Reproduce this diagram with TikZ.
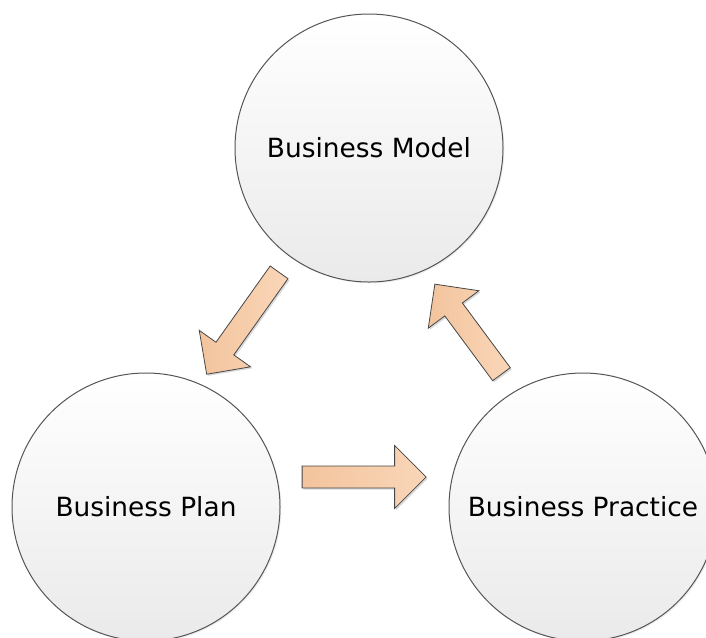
\documentclass[tikz,border=0pt]{standalone}
\usepackage{fontspec}
\setmainfont{DejaVu Sans}
\usetikzlibrary{shapes.arrows,shadows}

\definecolor{rimgray}{RGB}{85,85,85}
\definecolor{bubblelow}{RGB}{234,234,234}
\definecolor{peachdark}{RGB}{243,196,157}
\definecolor{peachlight}{RGB}{249,214,184}
\definecolor{peachrim}{RGB}{70,70,70}

\tikzset{every picture/.style={line width=0.75pt}}
\tikzset{
	bubble/.style={circle, draw=rimgray, inner sep=0pt, minimum size=201pt,
		top color=white, bottom color=bubblelow,
		drop shadow={shadow xshift=1pt, shadow yshift=-1pt, opacity=0.15},
		font=\fontsize{19.8}{24}\selectfont},
	fatarrow/.style={single arrow, draw=peachrim, line width=0.6pt,
		inner xsep=0pt, inner ysep=7.9pt, text height=0pt, text depth=0pt,
		single arrow head extend=15.4pt, anchor=tail,
		left color=peachdark, right color=peachlight,
		drop shadow={shadow xshift=1.2pt, shadow yshift=-1.2pt, opacity=0.3}}
}

\begin{document}
\begin{tikzpicture}[x=0.75pt,y=0.75pt,yscale=-1,xscale=1]
	\useasboundingbox (0,0) rectangle (706,637);
	\clip (0,0) rectangle (706,637);

	%Shape: Circle [id:model]
	\node[bubble] (model) at (369,148) {Business Model};
	%Shape: Circle [id:plan]
	\node[bubble] (plan) at (146,507) {Business Plan};
	%Shape: Circle [id:practice]
	\node[bubble] (practice) at (583,507) {Business Practice};

	%Shape: Right Arrow [id:model to plan]
	\node[fatarrow, minimum height=93.75pt, rotate=-125.4] (tuplan) at (279.3,272) {};
	%Shape: Right Arrow [id:plan to practice]
	\node[fatarrow, minimum height=93pt] (tupractice) at (301.7,477) {};
	%Shape: Right Arrow [id:practice to model]
	\node[fatarrow, minimum height=84pt, rotate=126.5] (tumodel) at (501.7,374.5) {};

\end{tikzpicture}
\end{document}
